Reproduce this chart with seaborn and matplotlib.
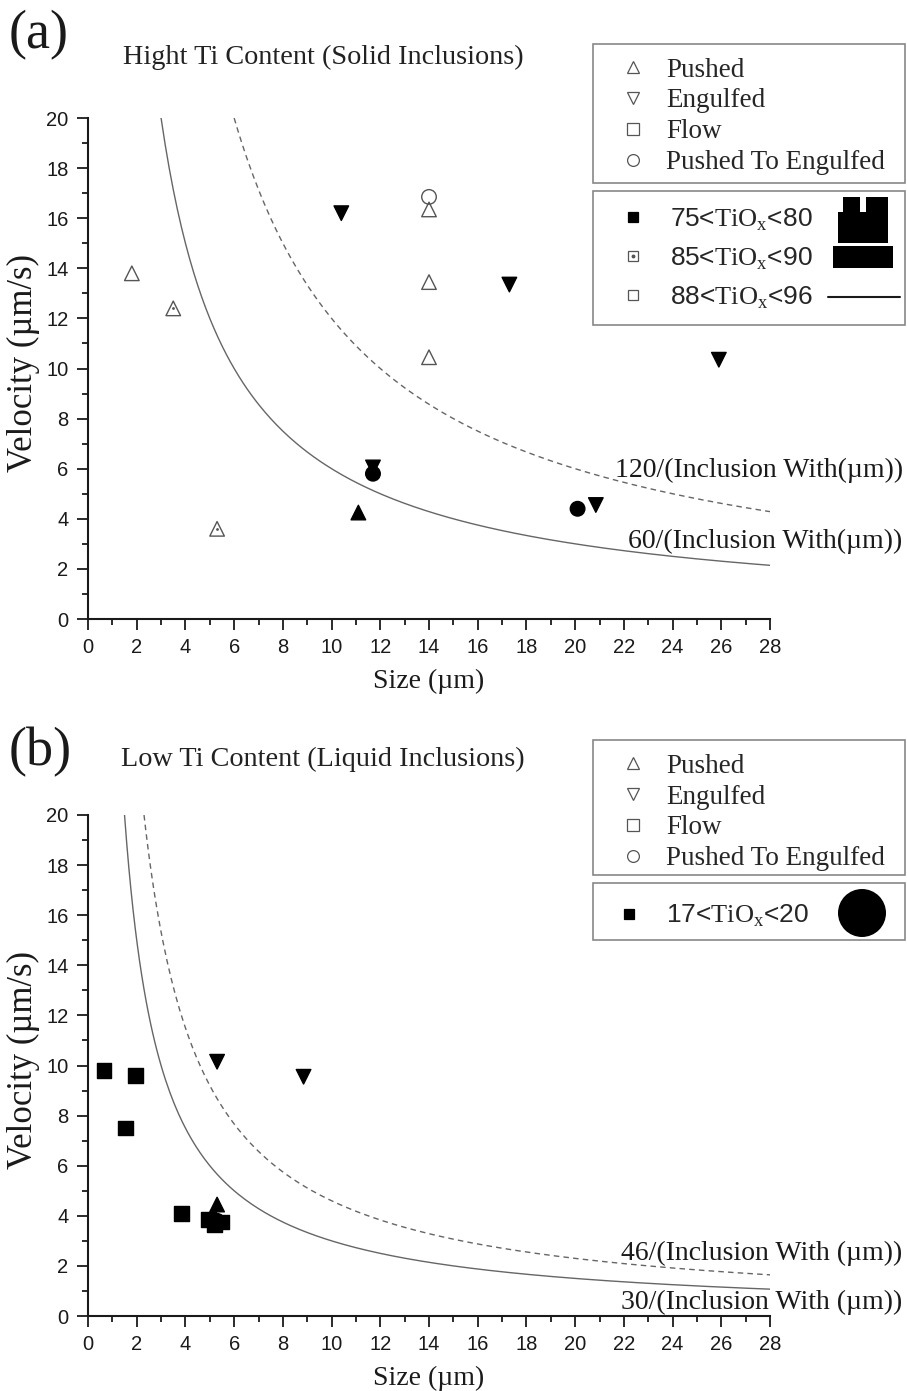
import numpy as np
import pandas as pd
import seaborn as sns
import matplotlib
matplotlib.use("Agg")
import matplotlib.pyplot as plt
from matplotlib.lines import Line2D
from matplotlib.patches import Rectangle, Ellipse

# ---- data ----
outcomes = ["Pushed", "Engulfed", "Flow", "Pushed To Engulfed"]
shape_of = {"Pushed": "^", "Engulfed": "v", "Flow": "s", "Pushed To Engulfed": "o"}

# panel (a): high Ti content (solid inclusions)
a_size = [1.8, 14.0, 14.0, 14.0, 3.5, 5.3, 11.1,
          10.4, 17.3, 25.9, 11.7, 20.85, 14.0, 11.7, 20.1]
a_vel = [13.8, 16.35, 13.45, 10.45, 12.4, 3.6, 4.25,
         16.2, 13.35, 10.35, 6.05, 4.55, 16.85, 5.8, 4.4]
a_outcome = ["Pushed", "Pushed", "Pushed", "Pushed", "Pushed", "Pushed", "Pushed",
             "Engulfed", "Engulfed", "Engulfed", "Engulfed", "Engulfed",
             "Pushed To Engulfed", "Pushed To Engulfed", "Pushed To Engulfed"]
a_group = ["88-96", "88-96", "88-96", "88-96", "85-90", "85-90", "75-80",
           "75-80", "75-80", "75-80", "75-80", "75-80",
           "88-96", "75-80", "75-80"]

# panel (b): low Ti content (liquid inclusions)
b_size = [0.65, 1.95, 1.55, 3.85, 4.95, 5.2, 5.5, 5.3, 8.85, 5.3, 5.3]
b_vel = [9.8, 9.6, 7.5, 4.1, 3.85, 3.65, 3.75, 10.15, 9.55, 4.45, 3.8]
b_outcome = ["Flow"] * 7 + ["Engulfed", "Engulfed", "Pushed", "Pushed To Engulfed"]
b_group = ["17-20"] * 11

# critical velocity curves  v = k / size
a_curve_k = [60, 120]
a_curve_start = [3.0, 6.0]
b_curve_k = [30, 46]
b_curve_start = [1.5, 2.3]

df_a = pd.DataFrame({"size": a_size, "vel": a_vel, "outcome": a_outcome, "group": a_group})
df_b = pd.DataFrame({"size": b_size, "vel": b_vel, "outcome": b_outcome, "group": b_group})

sns.set_style("ticks")
plt.rcParams["font.family"] = ["Liberation Sans", "DejaVu Sans"]
plt.rcParams["mathtext.fontset"] = "custom"
plt.rcParams["mathtext.rm"] = "Liberation Serif"

W, H = 907, 1391
fig = plt.figure(figsize=(W / 100, H / 100), dpi=100)


def fx(px):
    return px / W


def fy(py):
    return 1 - py / H


serif = ["Liberation Serif", "DejaVu Serif"]
grey = "#555555"
ink = "#1a1a1a"

group_style = {
    "75-80": dict(facecolor="black", edgecolor="black"),
    "17-20": dict(facecolor="black", edgecolor="black"),
    "85-90": dict(facecolor="none", edgecolor=grey),
    "88-96": dict(facecolor="none", edgecolor=grey),
}


def draw_panel(ax, df, curve_k, curve_start):
    for k, x0, ls in zip(curve_k, curve_start, ["-", (0, (4, 3))]):
        xs = np.linspace(x0, 28, 300)
        sns.lineplot(x=xs, y=k / xs, ax=ax, color="#666666", lw=1.0, linestyle=ls)
    for grp, sub in df.groupby("group"):
        sns.scatterplot(data=sub, x="size", y="vel", style="outcome",
                        markers=shape_of, style_order=outcomes, s=110,
                        linewidth=1.0, legend=False, ax=ax, zorder=3,
                        **group_style[grp])
        if grp == "85-90":
            sns.scatterplot(data=sub, x="size", y="vel", marker="o", s=4,
                            color=grey, linewidth=0, legend=False, ax=ax, zorder=4)
    ax.set_xlim(0, 28)
    ax.set_ylim(0, 20)
    ax.set_xticks(np.arange(0, 29, 2))
    ax.set_yticks(np.arange(0, 21, 2))
    ax.set_xticks(np.arange(1, 28, 2), minor=True)
    ax.set_yticks(np.arange(1, 20, 2), minor=True)
    ax.tick_params(which="major", direction="out", length=8, width=1.3, labelsize=14.5,
                   pad=6, colors=ink)
    ax.tick_params(which="minor", direction="out", length=4, width=1.3, colors=ink)
    for sp in ["left", "bottom"]:
        ax.spines[sp].set_linewidth(1.5)
        ax.spines[sp].set_color(ink)
    sns.despine(ax=ax)
    ax.set_xlabel("Size (µm)", family=serif, fontsize=20, color=ink)
    ax.set_ylabel("Velocity (µm/s)", family=serif, fontsize=25, color=ink)
    ax.xaxis.set_label_coords(0.5, -0.1)
    ax.yaxis.set_label_coords(-0.07, 0.51)


ax_a = fig.add_axes([fx(88), fy(619), fx(770) - fx(88), fy(118) - fy(619)])
ax_b = fig.add_axes([fx(88), fy(1316), fx(770) - fx(88), fy(815) - fy(1316)])
draw_panel(ax_a, df_a, a_curve_k, a_curve_start)
draw_panel(ax_b, df_b, b_curve_k, b_curve_start)

# curve labels
lab_kw = dict(ha="right", va="center", family=serif, fontsize=20, clip_on=False, color=ink)
ax_a.text(33.45, 5.95, "120/(Inclusion With(µm))", **lab_kw)
ax_a.text(33.45, 3.1, "60/(Inclusion With(µm))", **lab_kw)
ax_b.text(33.45, 2.5, "46/(Inclusion With (µm))", **lab_kw)
ax_b.text(33.45, 0.56, "30/(Inclusion With (µm))", **lab_kw)

# panel letters and titles
fig.text(fx(9), fy(35), "(a)", family=serif, fontsize=39, va="center", ha="left", color=ink)
fig.text(fx(123), fy(57), "Hight Ti Content (Solid Inclusions)", family=serif,
         fontsize=20.3, va="center", ha="left", color="#222222")
fig.text(fx(9), fy(752), "(b)", family=serif, fontsize=39, va="center", ha="left", color=ink)
fig.text(fx(121), fy(759), "Low Ti Content (Liquid Inclusions)", family=serif,
         fontsize=20.3, va="center", ha="left", color="#222222")


# legend boxes (drawn by hand so their extents match the reference)
def box(top, bot):
    fig.add_artist(Rectangle((fx(593), fy(bot)), fx(905) - fx(593), fy(top) - fy(bot),
                             transform=fig.transFigure, facecolor="white",
                             edgecolor="#888888", lw=1.2, zorder=4))


def bbox(top, bot):
    return (fx(593), fy(bot), fx(905) - fx(593), fy(top) - fy(bot))


def outcome_handles():
    return [Line2D([], [], ls="none", marker=shape_of[o], markersize=8.5,
                   markerfacecolor="none", markeredgecolor=grey, markeredgewidth=0.9)
            for o in outcomes]


def tio_label(lo, hi):
    return f"{lo}<$\\mathrm{{TiO}}_\\mathrm{{x}}$<{hi}"


base_kw = dict(loc="upper left", mode="expand", borderaxespad=0, frameon=False,
               bbox_transform=fig.transFigure)

for top, bot in [(44, 183), (740, 875)]:
    box(top, bot)
    fig.legend(outcome_handles(), outcomes, bbox_to_anchor=bbox(top, bot),
               prop={"family": serif, "size": 19.5}, labelspacing=0.22,
               borderpad=0.5, handlelength=1.95, handletextpad=0.24, **base_kw)


def key_square(fill, edge):
    return Line2D([], [], ls="none", marker="s", markersize=7.5, markerfacecolor=fill,
                  markeredgecolor=edge, markeredgewidth=0.9)


dot = Line2D([], [], ls="none", marker="o", markersize=1.8, color=grey)
tio_handles = [key_square("black", "black"), (key_square("none", grey), dot),
               key_square("none", grey)]

box(191, 325)
fig.legend(tio_handles, [tio_label(75, 80), tio_label(85, 90), tio_label(88, 96)],
           bbox_to_anchor=bbox(191, 325), prop={"size": 19}, labelspacing=0.48,
           borderpad=0.58, handlelength=1.87, handletextpad=0.47, **base_kw)

box(883, 940)
fig.legend(tio_handles[:1], [tio_label(17, 20)], bbox_to_anchor=bbox(883, 940),
           prop={"size": 19}, borderpad=0.75, handlelength=1.25,
           handletextpad=0.76, **base_kw)

# size-key glyphs on the right of the TiOx boxes
for x0, y0, x1, y1 in [(843, 197, 860, 212), (866, 197, 888, 243),
                       (838, 212, 888, 243), (833, 246, 893, 268)]:
    fig.add_artist(Rectangle((fx(x0), fy(y1)), fx(x1) - fx(x0), fy(y0) - fy(y1),
                             transform=fig.transFigure, color="black", lw=0, zorder=10))
fig.add_artist(Line2D([fx(828), fx(900)], [fy(297), fy(297)], color=ink, lw=1.5,
                      zorder=10))
fig.add_artist(Ellipse((fx(862), fy(913)), 48 / W, 48 / H, transform=fig.transFigure,
                       color="black", lw=0, zorder=10))

fig.savefig("out.png", dpi=100)
